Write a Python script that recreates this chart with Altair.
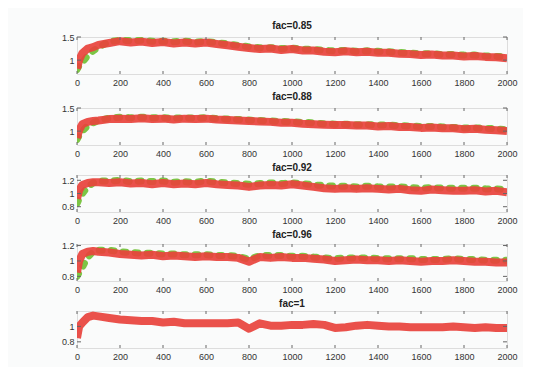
import altair as alt
import pandas as pd

# x sample positions (iterations)
xs = [0, 10, 25, 50, 75, 100, 150, 200, 250, 300, 350, 400, 450, 500, 550, 600,
      650, 700, 750, 800, 850, 900, 950, 1000, 1050, 1100, 1150, 1200, 1250, 1300,
      1350, 1400, 1450, 1500, 1550, 1600, 1650, 1700, 1750, 1800, 1850, 1900, 1950, 2000]

red_085 = [0.82, 1.00, 1.15, 1.25, 1.28, 1.33, 1.37, 1.41, 1.38, 1.40, 1.37, 1.39, 1.36, 1.38, 1.36, 1.38,
           1.35, 1.32, 1.29, 1.26, 1.24, 1.25, 1.22, 1.24, 1.21, 1.21, 1.18, 1.17, 1.19, 1.17,
           1.18, 1.16, 1.16, 1.14, 1.13, 1.11, 1.12, 1.10, 1.10, 1.08, 1.09, 1.07, 1.06, 1.04]
green_085 = [0.80, 0.88, 0.95, 1.10, 1.20, 1.28, 1.40, 1.43, 1.42, 1.43, 1.41, 1.41, 1.40, 1.41, 1.39, 1.40,
             1.38, 1.35, 1.32, 1.29, 1.27, 1.27, 1.25, 1.26, 1.24, 1.23, 1.21, 1.20, 1.21, 1.19,
             1.20, 1.19, 1.18, 1.17, 1.15, 1.14, 1.14, 1.12, 1.12, 1.11, 1.11, 1.09, 1.08, 1.07]

red_088 = [0.85, 1.02, 1.15, 1.20, 1.22, 1.23, 1.26, 1.27, 1.26, 1.28, 1.26, 1.27, 1.25, 1.27, 1.26, 1.27,
           1.25, 1.24, 1.23, 1.22, 1.21, 1.20, 1.18, 1.18, 1.16, 1.15, 1.14, 1.13, 1.13, 1.12,
           1.12, 1.10, 1.11, 1.09, 1.09, 1.07, 1.08, 1.06, 1.06, 1.04, 1.05, 1.03, 1.02, 1.00]
green_088 = [0.82, 0.90, 1.00, 1.12, 1.18, 1.23, 1.28, 1.30, 1.29, 1.30, 1.29, 1.29, 1.28, 1.29, 1.28, 1.29,
             1.27, 1.26, 1.25, 1.24, 1.23, 1.22, 1.21, 1.20, 1.19, 1.18, 1.16, 1.15, 1.15, 1.14,
             1.14, 1.13, 1.13, 1.12, 1.11, 1.10, 1.10, 1.09, 1.08, 1.07, 1.07, 1.06, 1.05, 1.03]

red_092 = [0.92, 1.05, 1.13, 1.16, 1.17, 1.17, 1.16, 1.17, 1.15, 1.16, 1.14, 1.16, 1.14, 1.15, 1.14, 1.16,
           1.14, 1.13, 1.12, 1.10, 1.12, 1.13, 1.12, 1.14, 1.12, 1.10, 1.08, 1.07, 1.08, 1.07,
           1.08, 1.07, 1.06, 1.07, 1.05, 1.04, 1.06, 1.05, 1.04, 1.04, 1.05, 1.03, 1.04, 1.02]
green_092 = [0.85, 0.92, 1.00, 1.10, 1.16, 1.19, 1.19, 1.20, 1.18, 1.19, 1.18, 1.19, 1.17, 1.18, 1.17, 1.19,
             1.17, 1.16, 1.15, 1.14, 1.15, 1.16, 1.15, 1.16, 1.15, 1.13, 1.12, 1.11, 1.11, 1.10,
             1.11, 1.10, 1.10, 1.10, 1.09, 1.08, 1.09, 1.08, 1.08, 1.08, 1.08, 1.07, 1.07, 1.06]

red_096 = [0.85, 1.00, 1.09, 1.12, 1.13, 1.12, 1.11, 1.09, 1.08, 1.07, 1.08, 1.06, 1.07, 1.06, 1.05, 1.06,
           1.05, 1.05, 1.04, 0.99, 1.05, 1.04, 1.05, 1.04, 1.04, 1.03, 1.02, 1.00, 1.01, 1.02,
           1.01, 1.01, 1.00, 1.01, 1.00, 0.99, 1.00, 1.00, 1.01, 1.00, 0.99, 0.99, 0.98, 0.98]
green_096 = [0.80, 0.85, 0.92, 1.05, 1.12, 1.14, 1.14, 1.12, 1.11, 1.10, 1.10, 1.09, 1.09, 1.08, 1.08, 1.08,
             1.07, 1.07, 1.06, 1.02, 1.07, 1.07, 1.07, 1.06, 1.06, 1.05, 1.04, 1.03, 1.04, 1.04,
             1.04, 1.03, 1.03, 1.03, 1.03, 1.02, 1.02, 1.02, 1.03, 1.02, 1.02, 1.01, 1.01, 1.01]

red_100 = [0.85, 1.00, 1.05, 1.12, 1.14, 1.13, 1.11, 1.09, 1.08, 1.07, 1.07, 1.05, 1.06, 1.04, 1.04, 1.04,
           1.04, 1.04, 1.05, 0.97, 1.04, 1.01, 1.01, 1.02, 1.02, 1.03, 1.02, 0.98, 0.99, 1.01,
           1.02, 1.01, 1.00, 1.00, 0.99, 0.99, 0.99, 0.99, 1.00, 0.99, 0.98, 0.99, 0.98, 0.98]

titles = ["fac=0.85", "fac=0.88", "fac=0.92", "fac=0.96", "fac=1"]
reds = [red_085, red_088, red_092, red_096, red_100]
greens = [green_085, green_088, green_092, green_096, None]
y_domains = [[0.7, 1.5], [0.7, 1.5], [0.72, 1.28], [0.74, 1.22], [0.72, 1.2]]
y_ticks = [[1, 1.5], [1, 1.5], [0.8, 1, 1.2], [0.8, 1, 1.2], [0.8, 1]]
x_ticks = [0, 200, 400, 600, 800, 1000, 1200, 1400, 1600, 1800, 2000]

RED = "#e8423c"
GREEN = "#7cc545"
W, H = 430, 37

panels = []
for title, red, green, ydom, yt in zip(titles, reds, greens, y_domains, y_ticks):
    xscale = alt.Scale(domain=[0, 2000], nice=False, zero=False)
    yscale = alt.Scale(domain=ydom, nice=False, zero=False)
    xax = alt.Axis(values=x_ticks, title=None, ticks=False, domain=False, grid=False,
                   labelFontSize=9, labelColor="#333", labelPadding=4, format="d",
                   labelFlush=False, labelOverlap=False)
    yax = alt.Axis(values=yt, title=None, ticks=False, domain=False, grid=False,
                   labelFontSize=9, labelColor="#333", labelPadding=3, format="~g")
    layers = []
    if green is not None:
        gdf = pd.DataFrame({"x": xs, "y": green})
        layers.append(alt.Chart(gdf).mark_line(color=GREEN, strokeWidth=7, strokeDash=[3, 9],
                                               strokeCap="round", clip=True).encode(
            x=alt.X("x:Q", scale=xscale, axis=xax),
            y=alt.Y("y:Q", scale=yscale, axis=yax)))
    rdf = pd.DataFrame({"x": xs, "y": red})
    layers.append(alt.Chart(rdf).mark_line(color=RED, strokeWidth=8, opacity=0.92,
                                           strokeJoin="round", clip=True).encode(
        x=alt.X("x:Q", scale=xscale, axis=xax),
        y=alt.Y("y:Q", scale=yscale, axis=yax)))
    tdf = pd.DataFrame({"t": x_ticks})
    layers.append(alt.Chart(tdf).mark_rule(color="#666", strokeWidth=1).encode(
        x=alt.X("t:Q", scale=xscale, axis=xax), y=alt.value(H - 3), y2=alt.value(H)))
    layers.append(alt.Chart(tdf).mark_rule(color="#666", strokeWidth=1).encode(
        x=alt.X("t:Q", scale=xscale, axis=xax), y=alt.value(0), y2=alt.value(3)))
    ydf = pd.DataFrame({"v": yt})
    layers.append(alt.Chart(ydf).mark_rule(color="#666", strokeWidth=1).encode(
        y=alt.Y("v:Q", scale=yscale, axis=yax), x=alt.value(0), x2=alt.value(4)))
    layers.append(alt.Chart(ydf).mark_rule(color="#666", strokeWidth=1).encode(
        y=alt.Y("v:Q", scale=yscale, axis=yax), x=alt.value(W - 4), x2=alt.value(W)))
    panel = alt.layer(*layers).properties(
        width=W, height=H,
        title=alt.TitleParams(title, fontSize=10, fontWeight="bold", anchor="middle",
                              offset=2, color="#222"))
    panels.append(panel)

chart = alt.vconcat(*panels, spacing=3).properties(
    padding={"left": 52, "top": 12, "right": 5, "bottom": 5},
    background="#fafbfb",
).configure_view(stroke="#8a8a8a", strokeWidth=1, fill="white").configure(
    font="Liberation Sans")

chart.save("out.html", embed_options={"renderer": "svg", "actions": False})
